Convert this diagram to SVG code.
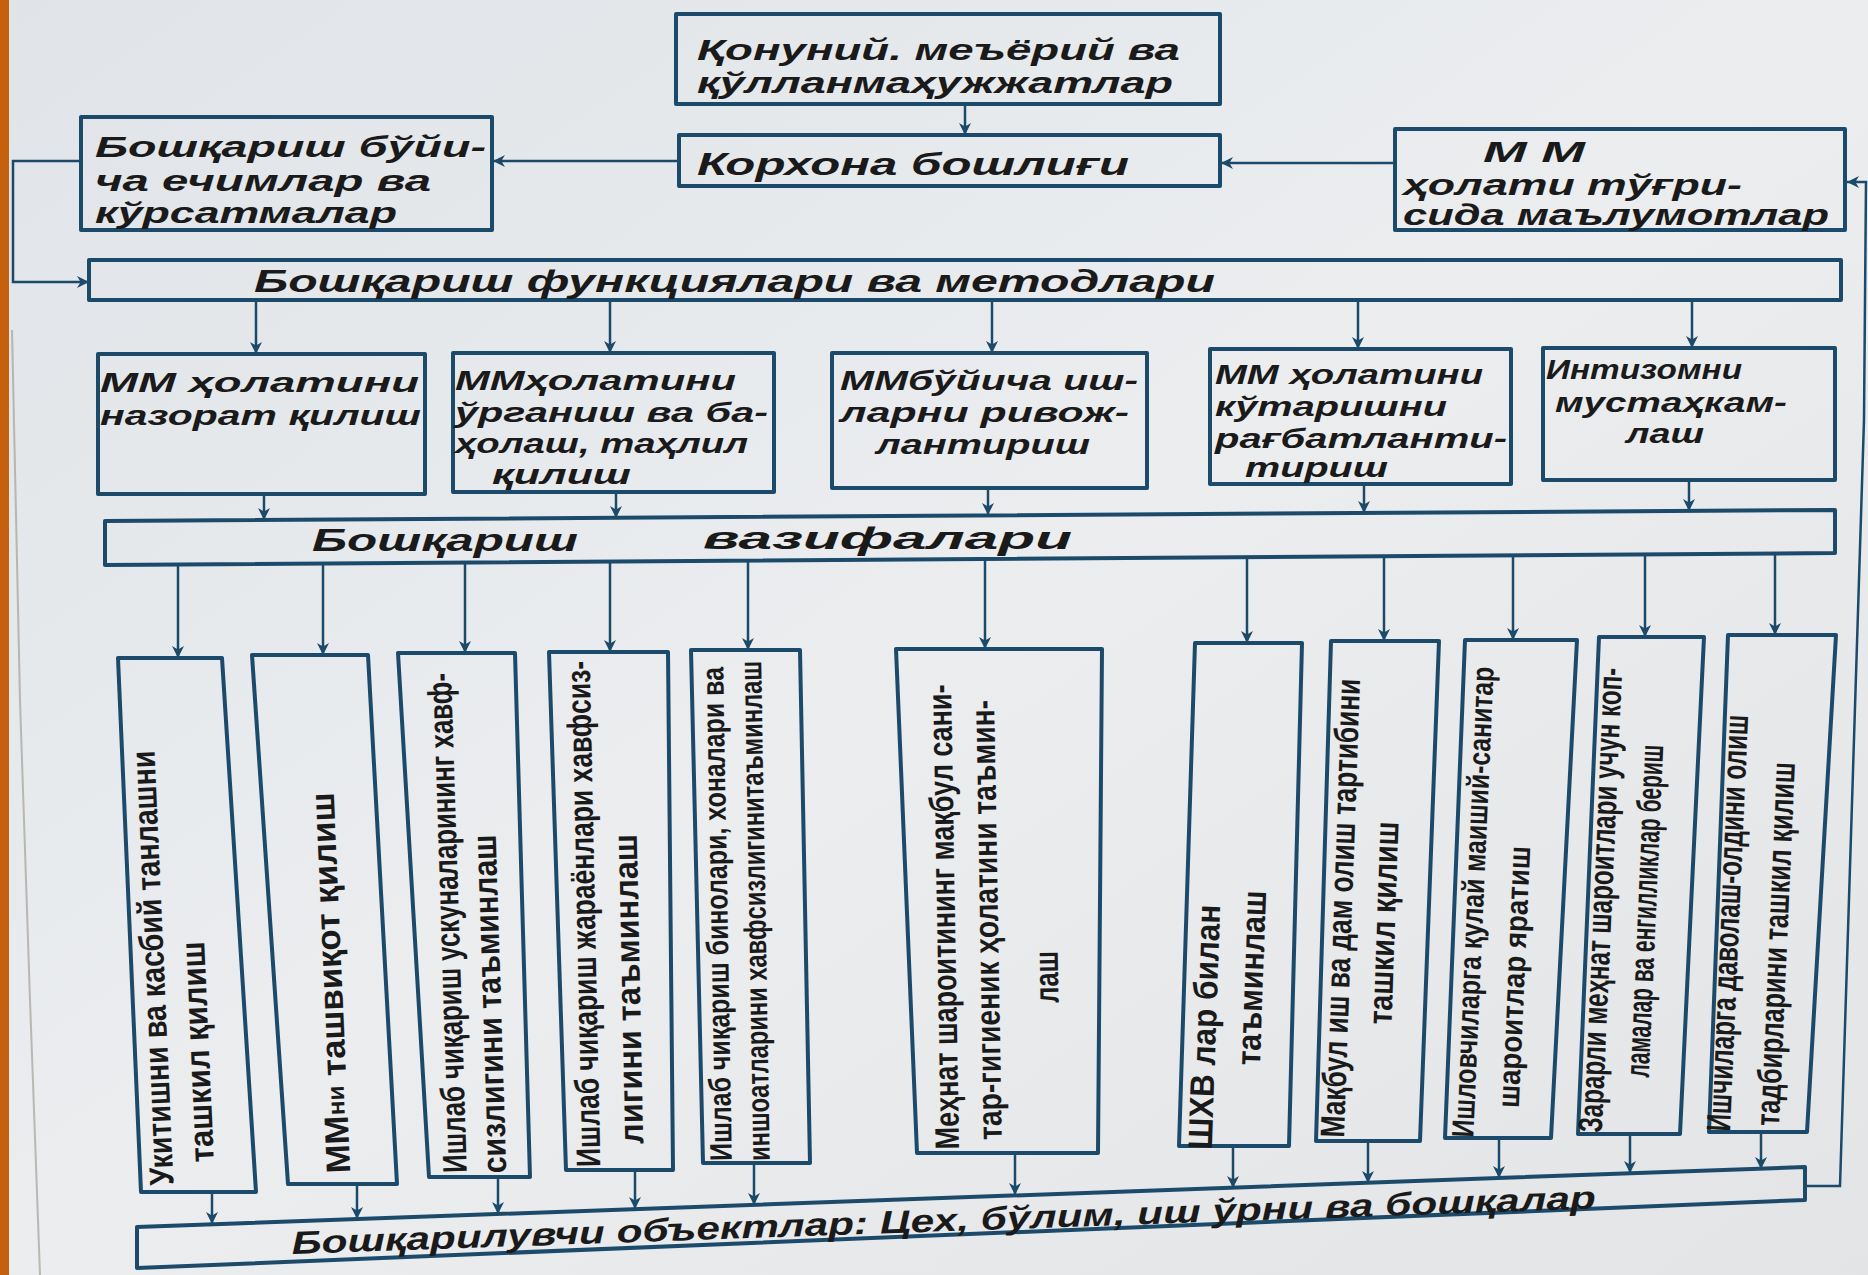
<svg xmlns="http://www.w3.org/2000/svg" width="1868" height="1275" viewBox="0 0 1868 1275">
<defs>
<linearGradient id="paper" x1="0" y1="0" x2="1" y2="1">
<stop offset="0" stop-color="#e0e4e8"/>
<stop offset="0.5" stop-color="#ebedef"/>
<stop offset="1" stop-color="#e2e4e6"/>
</linearGradient>
<marker id="ah" viewBox="0 0 10 10" refX="10" refY="5" markerWidth="13" markerHeight="12" markerUnits="userSpaceOnUse" orient="auto">
<path d="M0,0 L10,5 L0,10 L3,5 z" fill="#1c4a6a"/>
</marker>
<style>
.box{fill:none;stroke:#1c4a6a;stroke-width:4;stroke-linejoin:round}
.con{fill:none;stroke:#1c4a6a;stroke-width:2.5}
.t{font-family:"Liberation Sans","DejaVu Sans",sans-serif;font-style:italic;font-weight:bold;font-size:32px;fill:#1a1a1a}
.t2{font-family:"Liberation Sans","DejaVu Sans",sans-serif;font-style:italic;font-weight:bold;font-size:29px;fill:#1a1a1a}
.m{font-family:"Liberation Sans","DejaVu Sans",sans-serif;font-style:italic;font-weight:bold;font-size:28px;fill:#1a1a1a}
.v{font-family:"Liberation Sans","DejaVu Sans",sans-serif;font-weight:bold;font-size:34px;fill:#1a1a1a;dominant-baseline:central;text-anchor:middle}
.vs{font-size:31px}
</style>
</defs>
<rect x="0" y="0" width="1868" height="1275" fill="url(#paper)"/>
<rect x="0" y="0" width="9" height="1275" fill="#c4600e"/>
<path d="M12 330 L20 700 L30 1000 L40 1275" fill="none" stroke="#8c8478" stroke-width="2" opacity="0.5"/>

<g id="connectors">
<line class="con" x1="965" y1="105" x2="965" y2="135" marker-end="url(#ah)"/>
<line class="con" x1="679" y1="161" x2="493" y2="161" marker-end="url(#ah)"/>
<line class="con" x1="1395" y1="163" x2="1221" y2="163" marker-end="url(#ah)"/>
<path class="con" d="M81 161 H13 V282 H89" marker-end="url(#ah)"/>
<path class="con" d="M1805 1186 H1840 L1864 420 L1866 182 H1847" marker-end="url(#ah)"/>
<line class="con" x1="256" y1="300" x2="256" y2="354" marker-end="url(#ah)"/>
<line class="con" x1="610" y1="300" x2="610" y2="353" marker-end="url(#ah)"/>
<line class="con" x1="992" y1="300" x2="992" y2="353" marker-end="url(#ah)"/>
<line class="con" x1="1358" y1="300" x2="1358" y2="349" marker-end="url(#ah)"/>
<line class="con" x1="1692" y1="300" x2="1692" y2="348" marker-end="url(#ah)"/>
<line class="con" x1="264" y1="494" x2="264" y2="520" marker-end="url(#ah)"/>
<line class="con" x1="616" y1="492" x2="616" y2="518" marker-end="url(#ah)"/>
<line class="con" x1="988" y1="488" x2="988" y2="515" marker-end="url(#ah)"/>
<line class="con" x1="1364" y1="484" x2="1364" y2="513" marker-end="url(#ah)"/>
<line class="con" x1="1689" y1="480" x2="1689" y2="511" marker-end="url(#ah)"/>
<line class="con" x1="178" y1="565" x2="178" y2="658" marker-end="url(#ah)"/>
<line class="con" x1="323" y1="563" x2="323" y2="655" marker-end="url(#ah)"/>
<line class="con" x1="465" y1="562" x2="465" y2="653" marker-end="url(#ah)"/>
<line class="con" x1="610" y1="562" x2="610" y2="652" marker-end="url(#ah)"/>
<line class="con" x1="748" y1="561" x2="748" y2="650" marker-end="url(#ah)"/>
<line class="con" x1="985" y1="559" x2="985" y2="649" marker-end="url(#ah)"/>
<line class="con" x1="1247" y1="557" x2="1247" y2="643" marker-end="url(#ah)"/>
<line class="con" x1="1384" y1="556" x2="1384" y2="641" marker-end="url(#ah)"/>
<line class="con" x1="1513" y1="555" x2="1513" y2="640" marker-end="url(#ah)"/>
<line class="con" x1="1645" y1="554" x2="1645" y2="637" marker-end="url(#ah)"/>
<line class="con" x1="1775" y1="553" x2="1775" y2="635" marker-end="url(#ah)"/>
<line class="con" x1="212" y1="1191" x2="212" y2="1224" marker-end="url(#ah)"/>
<line class="con" x1="357" y1="1183" x2="357" y2="1219" marker-end="url(#ah)"/>
<line class="con" x1="498" y1="1177" x2="498" y2="1214" marker-end="url(#ah)"/>
<line class="con" x1="635" y1="1170" x2="635" y2="1209" marker-end="url(#ah)"/>
<line class="con" x1="754" y1="1163" x2="754" y2="1205" marker-end="url(#ah)"/>
<line class="con" x1="1015" y1="1153" x2="1015" y2="1195" marker-end="url(#ah)"/>
<line class="con" x1="1233" y1="1146" x2="1233" y2="1188" marker-end="url(#ah)"/>
<line class="con" x1="1368" y1="1141" x2="1368" y2="1183" marker-end="url(#ah)"/>
<line class="con" x1="1499" y1="1138" x2="1499" y2="1178" marker-end="url(#ah)"/>
<line class="con" x1="1630" y1="1134" x2="1630" y2="1173" marker-end="url(#ah)"/>
<line class="con" x1="1761" y1="1132" x2="1761" y2="1169" marker-end="url(#ah)"/>
</g>

<g id="n-qonuniy">
<rect class="box" x="676" y="14" width="544" height="90"/>
<text class="t2" x="697" y="60" textLength="483" lengthAdjust="spacingAndGlyphs">Қонуний. меъёрий ва</text>
<text class="t2" x="697" y="93" textLength="476" lengthAdjust="spacingAndGlyphs">қўлланмаҳужжатлар</text>
</g>
<g id="n-korxona">
<rect class="box" x="679" y="135" width="541" height="51"/>
<text class="t" x="697" y="175" textLength="432" lengthAdjust="spacingAndGlyphs">Корхона бошлиғи</text>
</g>
<g id="n-qarorlar">
<rect class="box" x="81" y="117" width="411" height="113"/>
<text class="t2" x="95" y="157" textLength="391" lengthAdjust="spacingAndGlyphs">Бошқариш бўйи-</text>
<text class="t2" x="95" y="191" textLength="336" lengthAdjust="spacingAndGlyphs">ча ечимлар ва</text>
<text class="t2" x="95" y="223" textLength="302" lengthAdjust="spacingAndGlyphs">кўрсатмалар</text>
</g>
<g id="n-malumot">
<rect class="box" x="1395" y="129" width="450" height="101"/>
<text class="t2" x="1483" y="162" textLength="102" lengthAdjust="spacingAndGlyphs">М М</text>
<text class="t2" x="1403" y="195" textLength="339" lengthAdjust="spacingAndGlyphs">ҳолати тўғри-</text>
<text class="t2" x="1403" y="225" textLength="426" lengthAdjust="spacingAndGlyphs">сида маълумотлар</text>
</g>
<g id="n-funksiyalar">
<rect class="box" x="89" y="260" width="1752" height="40"/>
<text class="t" x="254" y="292" textLength="961" lengthAdjust="spacingAndGlyphs">Бошқариш  функциялари ва методлари</text>
</g>

<g id="n-nazorat">
<rect class="box" x="98" y="354" width="327" height="140"/>
<text class="m" x="100" y="392" textLength="319" lengthAdjust="spacingAndGlyphs">ММ ҳолатини</text>
<text class="m" x="100" y="425" textLength="321" lengthAdjust="spacingAndGlyphs">назорат қилиш</text>
</g>
<g id="n-organish">
<rect class="box" x="453" y="353" width="321" height="139"/>
<text class="m" x="455" y="390" textLength="281" lengthAdjust="spacingAndGlyphs">ММҳолатини</text>
<text class="m" x="455" y="422" textLength="313" lengthAdjust="spacingAndGlyphs">ўрганиш ва ба-</text>
<text class="m" x="455" y="453" textLength="293" lengthAdjust="spacingAndGlyphs">ҳолаш, таҳлил</text>
<text class="m" x="492" y="484" textLength="139" lengthAdjust="spacingAndGlyphs">қилиш</text>
</g>
<g id="n-rivojlantirish">
<rect class="box" x="832" y="353" width="315" height="135"/>
<text class="m" x="840" y="390" textLength="298" lengthAdjust="spacingAndGlyphs">ММбўйича иш-</text>
<text class="m" x="840" y="422" textLength="289" lengthAdjust="spacingAndGlyphs">ларни ривож-</text>
<text class="m" x="876" y="454" textLength="214" lengthAdjust="spacingAndGlyphs">лантириш</text>
</g>
<g id="n-ragbat">
<rect class="box" x="1210" y="349" width="301" height="135"/>
<text class="m" x="1215" y="384" textLength="268" lengthAdjust="spacingAndGlyphs">ММ ҳолатини</text>
<text class="m" x="1215" y="416" textLength="232" lengthAdjust="spacingAndGlyphs">кўтаришни</text>
<text class="m" x="1215" y="448" textLength="292" lengthAdjust="spacingAndGlyphs">рағбатланти-</text>
<text class="m" x="1245" y="477" textLength="143" lengthAdjust="spacingAndGlyphs">тириш</text>
</g>
<g id="n-intizom">
<rect class="box" x="1543" y="348" width="292" height="132"/>
<text class="m" x="1546" y="379" textLength="196" lengthAdjust="spacingAndGlyphs">Интизомни</text>
<text class="m" x="1555" y="412" textLength="232" lengthAdjust="spacingAndGlyphs">мустаҳкам-</text>
<text class="m" x="1626" y="443" textLength="78" lengthAdjust="spacingAndGlyphs">лаш</text>
</g>

<g id="n-vazifalar">
<polygon class="box" points="105,521 1835,510 1835,553 105,565"/>
<text class="t" x="312" y="551" textLength="266" lengthAdjust="spacingAndGlyphs">Бошқариш</text>
<text class="t" x="703" y="549" textLength="369" lengthAdjust="spacingAndGlyphs">вазифалари</text>
</g>

<g id="n-v1">
<polygon class="box" points="118,658 222,658 256,1192 141,1192"/>
<text class="v" transform="translate(152 968) rotate(-92.5)" textLength="435" lengthAdjust="spacingAndGlyphs">Укитишни  ва касбий танлашни</text>
<text class="v" transform="translate(197 1052) rotate(-92.5)" textLength="221" lengthAdjust="spacingAndGlyphs">ташкил қилиш</text>
</g>
<g id="n-v2">
<polygon class="box" points="252,655 368,655 397,1184 288,1184"/>
<text class="v" transform="translate(330 983) rotate(-92.5)" textLength="381" lengthAdjust="spacingAndGlyphs">ММ<tspan font-size="24">ни</tspan> ташвиқот қилиш</text>
</g>
<g id="n-v3">
<polygon class="box" points="398,653 515,653 530,1177 429,1177"/>
<text class="v" transform="translate(447 923) rotate(-91.8)" textLength="500" lengthAdjust="spacingAndGlyphs">Ишлаб чиқариш ускуналарининг хавф-</text>
<text class="v" transform="translate(489 1004) rotate(-91.8)" textLength="339" lengthAdjust="spacingAndGlyphs">сизлигини  таъминлаш</text>
</g>
<g id="n-v4">
<polygon class="box" points="549,652 668,652 673,1170 566,1170"/>
<text class="v" transform="translate(583 914) rotate(-91.2)" textLength="506" lengthAdjust="spacingAndGlyphs">Ишлаб чиқариш жараёнлари хавфсиз-</text>
<text class="v" transform="translate(628 989) rotate(-91.2)" textLength="310" lengthAdjust="spacingAndGlyphs">лигини  таъминлаш</text>
</g>
<g id="n-v5">
<polygon class="box" points="691,650 800,650 810,1163 703,1163"/>
<text class="v vs" transform="translate(717 914) rotate(-91)" textLength="494" lengthAdjust="spacingAndGlyphs">Ишлаб чиқариш бинолари, хоналари ва</text>
<text class="v vs" transform="translate(755 911) rotate(-91)" textLength="500" lengthAdjust="spacingAndGlyphs">иншоатларини хавфсизлигинитаъминлаш</text>
</g>
<g id="n-v6">
<polygon class="box" points="896,649 1102,649 1098,1153 917,1153"/>
<text class="v" transform="translate(943 917) rotate(-91)" textLength="465" lengthAdjust="spacingAndGlyphs">Меҳнат шароитининг мақбул сани-</text>
<text class="v" transform="translate(986 920) rotate(-91)" textLength="440" lengthAdjust="spacingAndGlyphs">тар-гигиеник ҳолатини таъмин-</text>
<text class="v" transform="translate(1046 977) rotate(-91)" textLength="52" lengthAdjust="spacingAndGlyphs">лаш</text>
</g>
<g id="n-v7">
<polygon class="box" points="1195,643 1302,643 1289,1146 1179,1146"/>
<text class="v" transform="translate(1204 1027) rotate(-88)" textLength="245" lengthAdjust="spacingAndGlyphs">ШХВ лар билан</text>
<text class="v" transform="translate(1251 978) rotate(-88)" textLength="175" lengthAdjust="spacingAndGlyphs">таъминлаш</text>
</g>
<g id="n-v8">
<polygon class="box" points="1331,641 1439,641 1420,1141 1316,1141"/>
<text class="v" transform="translate(1340 908) rotate(-88)" textLength="459" lengthAdjust="spacingAndGlyphs">Мақбул иш ва дам олиш тартибини</text>
<text class="v" transform="translate(1383 923) rotate(-88)" textLength="203" lengthAdjust="spacingAndGlyphs">ташкил қилиш</text>
</g>
<g id="n-v9">
<polygon class="box" points="1465,640 1577,640 1551,1138 1445,1138"/>
<text class="v vs" transform="translate(1473 902) rotate(-87.5)" textLength="471" lengthAdjust="spacingAndGlyphs">Ишловчиларга қулай маиший-санитар</text>
<text class="v vs" transform="translate(1514 977) rotate(-87.5)" textLength="262" lengthAdjust="spacingAndGlyphs">шароитлар яратиш</text>
</g>
<g id="n-v10">
<polygon class="box" points="1599,637 1704,637 1680,1134 1578,1134"/>
<text class="v" transform="translate(1600 900) rotate(-87.5)" textLength="465" lengthAdjust="spacingAndGlyphs">Зарарли меҳнат шароитлари учун коп-</text>
<text class="v" transform="translate(1644 911) rotate(-87.5)" textLength="333" lengthAdjust="spacingAndGlyphs">ламалар ва енгилликлар бериш</text>
</g>
<g id="n-v11">
<polygon class="box" points="1728,635 1836,635 1807,1132 1709,1132"/>
<text class="v" transform="translate(1727 923) rotate(-87.5)" textLength="417" lengthAdjust="spacingAndGlyphs">Ишчиларга даволаш-олдини олиш</text>
<text class="v" transform="translate(1775 944) rotate(-87.5)" textLength="364" lengthAdjust="spacingAndGlyphs">тадбирларини ташкил қилиш</text>
</g>

<g id="n-obyektlar">
<polygon class="box" points="137,1227 1805,1167 1805,1200 137,1268"/>
<text class="t" transform="translate(292 1254) rotate(-2)" textLength="1305" lengthAdjust="spacingAndGlyphs">Бошқарилувчи объектлар: Цех, бўлим, иш ўрни ва бошқалар</text>
</g>
</svg>
